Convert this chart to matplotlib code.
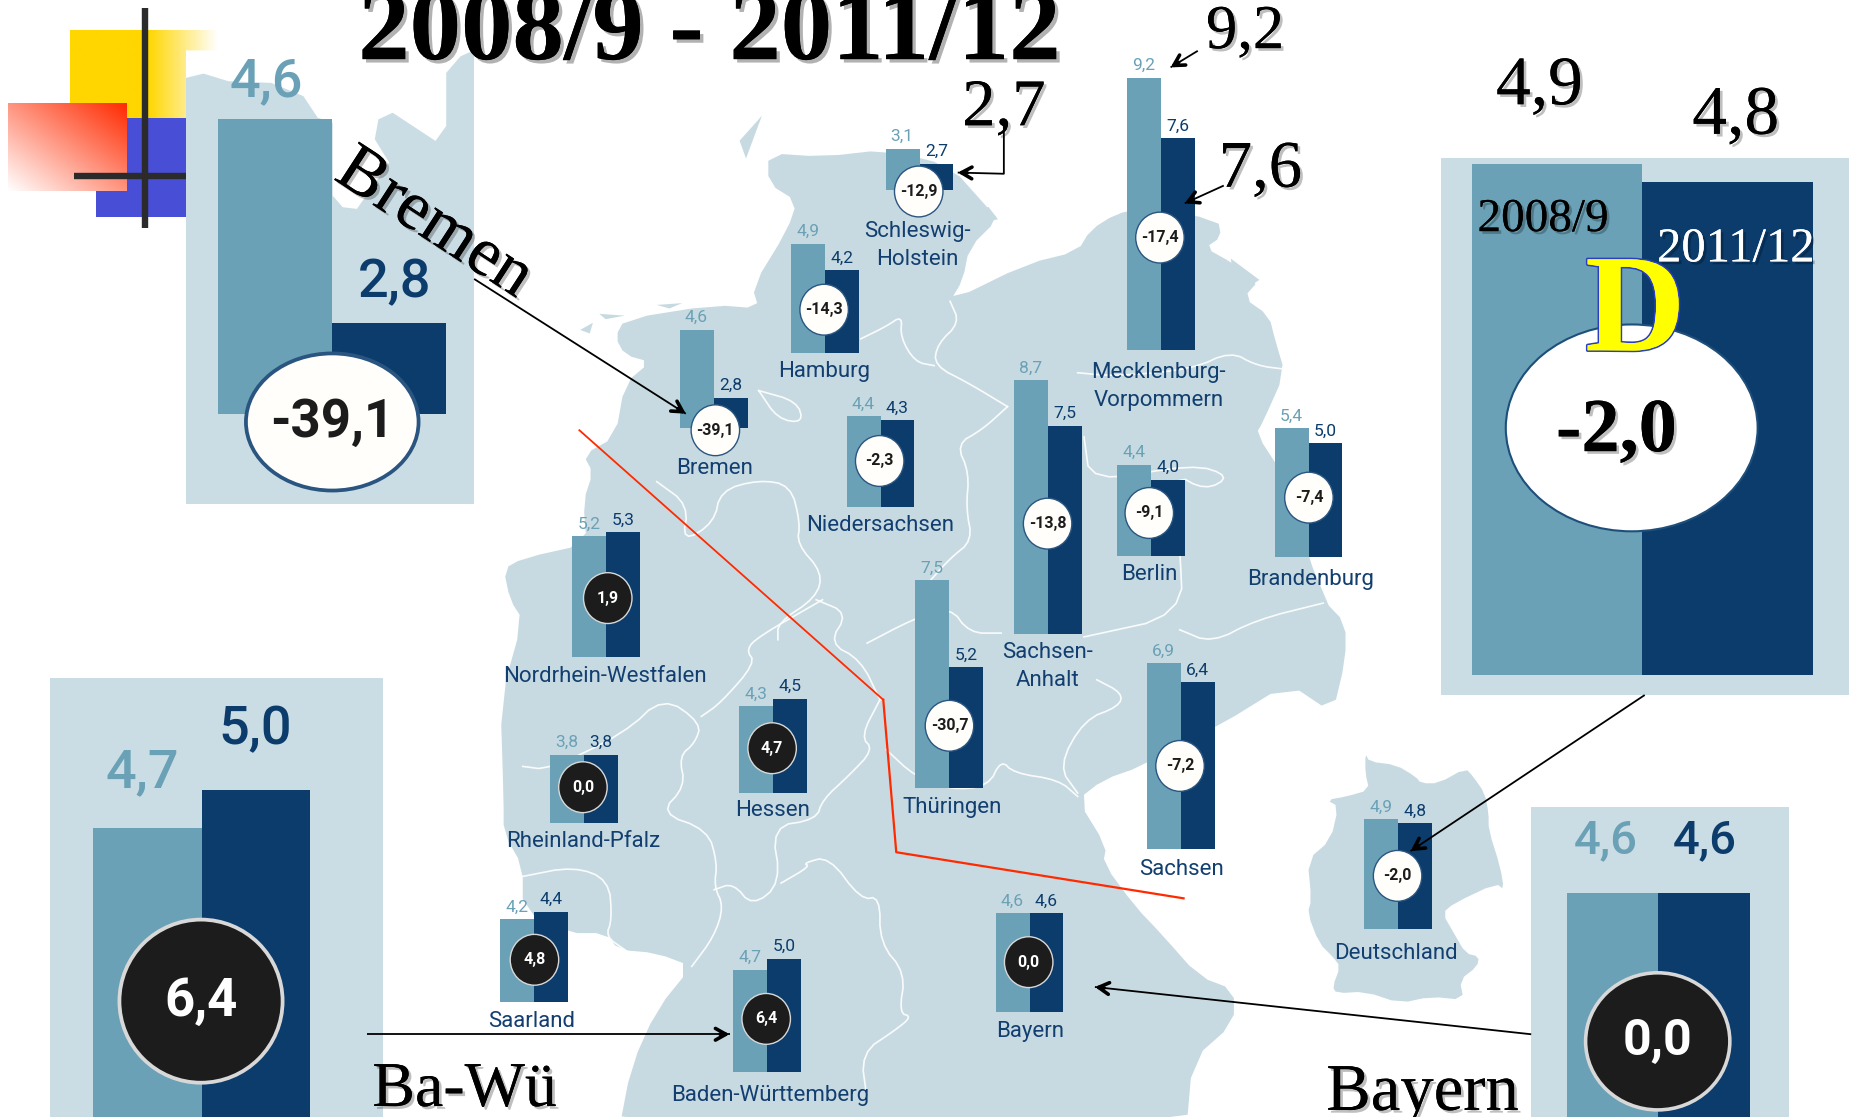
import numpy as np
import matplotlib
matplotlib.use("Agg")
import matplotlib.pyplot as plt
import matplotlib.patheffects as pe
from matplotlib.colors import to_rgb
from matplotlib.patches import Ellipse, Polygon, Rectangle

# ---------- data ----------
states = ["Schleswig-\nHolstein", "Hamburg", "Mecklenburg-\nVorpommern", "Bremen", "Niedersachsen",
          "Sachsen-\nAnhalt", "Berlin", "Brandenburg", "Nordrhein-Westfalen", "Rheinland-Pfalz",
          "Hessen", "Thüringen", "Sachsen", "Saarland", "Baden-Württemberg", "Bayern", "Deutschland"]
rate_2008 = [3.1, 4.9, 9.2, 4.6, 4.4, 8.7, 4.4, 5.4, 5.2, 3.8, 4.3, 7.5, 6.9, 4.2, 4.7, 4.6, 4.9]
rate_2011 = [2.7, 4.2, 7.6, 2.8, 4.3, 7.5, 4.0, 5.0, 5.3, 3.8, 4.5, 5.2, 6.4, 4.4, 5.0, 4.6, 4.8]
change = [-12.9, -14.3, -17.4, -39.1, -2.3, -13.8, -9.1, -7.4, 1.9, 0.0, 4.7, -30.7, -7.2, 4.8, 6.4, 0.0, -2.0]

# ---------- layout (in the 1568x945 frame) ----------
bar_left = [749, 669, 953, 575, 716, 858, 945, 1078, 484, 465, 625, 774, 970, 423, 620, 842, 1154]
bar_base = [161, 299, 296, 362, 429, 536, 470, 471, 556, 696, 671, 667, 718, 848, 907, 856, 786]
circle_x = [777, 697, 981, 605, 744, 886, 972, 1107, 514, 493, 653, 803, 998, 452, 648, 870, 1182]
circle_y = [162, 262, 201, 364, 390, 443, 434, 421, 506, 666, 633, 614, 648, 812, 862, 814, 741]
label_x = [776, 697, 980, 604, 744, 886, 972, 1108, 512, 493, 653, 805, 999, 450, 651, 871, 1181]
label_y = [208, 314, 327, 396, 445, 564, 486, 490, 572, 712, 686, 683, 736, 864, 927, 873, 807]

LIGHT, DARK = "#6AA1B6", "#0B3C6C"
MAP, BG = "#C8DAE1", "#CADDE4"
INK = "#1C1C1C"
SANS = ["Roboto", "DejaVu Sans"]
SERIF = ["Liberation Serif", "DejaVu Serif"]
AXIS_FLOOR = 2.0  # the bars start at 2 %

fig = plt.figure(figsize=(18.54, 11.17), dpi=100, facecolor="white")
ax = fig.add_axes([0, 0, 1, 1])


def fmt(v):
    return f"{v:.1f}".replace(".", ",")


def zoom1(pts):
    return [(372 + x * 0.5394, 67.7 + y * 0.302) for x, y in pts]


def zoom2(pts):
    return [(372 + x * 0.5394, 507.4 + y * 0.282) for x, y in pts]


def zoom3(pts):
    return [(x * 0.3019, y * 0.2805) for x, y in pts]


def zoom5(pts):
    return [(1057 + x * 0.3258, 626 + y * 0.282) for x, y in pts]


def smooth(pts, closed=False, n=2):
    p = np.array(pts, float)
    for _ in range(n):
        a = p if closed else p[:-1]
        b = np.roll(p, -1, axis=0) if closed else p[1:]
        q = np.empty((2 * len(a), 2))
        q[0::2] = 0.75 * a + 0.25 * b
        q[1::2] = 0.25 * a + 0.75 * b
        p = q if closed else np.vstack([p[:1], q, p[-1:]])
    return p


# ---------- decoration top left ----------
def gradient(extent, rgb, mix, z):
    """mix = 1 gives the colour, mix = 0 gives white or transparent as built by the caller."""
    ax.imshow(mix(np.array(to_rgb(rgb))), extent=extent, aspect="auto", zorder=z, interpolation="bilinear")


xx = np.linspace(0, 1, 200)
fade = np.clip((1 - xx) / 0.47, 0, 1)[None, :, None].repeat(4, axis=0)
gradient((59, 184, 100, 26), "#FFD600", lambda c: fade * c + (1 - fade), 1)
ax.add_patch(Rectangle((81, 100), 76, 84, fc="#484FD6", ec="none", zorder=1.2))
gx, gy = np.meshgrid(np.linspace(0, 1, 200), np.linspace(0, 1, 200))
diag = ((gx + (1 - gy)) / 2)[..., None]
gradient((7, 107, 162, 88), "#FF2A00", lambda c: diag * c + (1 - diag), 1.4)
ax.plot([123, 123], [7, 193], color="#2B2B2B", lw=4.6, zorder=1.6, solid_capstyle="butt")
ax.plot([63, 157], [149, 149], color="#2B2B2B", lw=4.6, zorder=1.6, solid_capstyle="butt")

# ---------- map of Germany ----------
outline = zoom1([(515, 205), (600, 215), (700, 195), (800, 240), (860, 360), (875, 390), (830, 470), (820, 560),
                 (800, 620), (920, 515), (1000, 480), (1020, 420), (1060, 375), (1100, 360), (1220, 390),
                 (1225, 440), (1200, 470), (1240, 510), (1285, 560), (1260, 610), (1300, 660), (1310, 730),
                 (1325, 820), (1290, 960), (1280, 990), (1320, 1100)]) + \
    zoom2([(1385, 0), (1420, 70), (1420, 180), (1400, 340), (1330, 250), (1220, 380), (1170, 420), (1100, 500),
           (1040, 540), (1000, 600), (1045, 740), (1040, 790), (1090, 920), (1130, 1000), (1190, 1130), (1245, 1170),
           (1245, 1270), (1180, 1380), (1170, 1600), (280, 1600), (300, 1400), (340, 1230), (395, 1100), (340, 1060),
           (280, 1050), (260, 1000), (200, 1000), (130, 930), (130, 800), (100, 700), (100, 600), (95, 300),
           (130, 60), (110, 0)]) + \
    zoom1([(100, 1370), (130, 1340), (230, 1300), (225, 1180), (240, 1100), (225, 1050), (275, 1000), (290, 850),
           (330, 790), (290, 770), (275, 720), (290, 670), (430, 630), (500, 640), (490, 580), (545, 420), (560, 340),
           (515, 290)])
ax.add_patch(Polygon(smooth(outline, closed=True, n=1), closed=True, fc=MAP, ec="none", zorder=2))
for isl in [[(470, 170), (505, 100), (480, 220)], [(250, 655), (290, 660), (260, 670)],
            [(220, 700), (240, 680), (235, 710)], [(340, 630), (380, 625), (360, 640)],
            [(840, 380), (860, 355), (875, 390), (850, 400)], [(1240, 500), (1285, 560), (1250, 600)]]:
    ax.add_patch(Polygon(zoom1(isl), closed=True, fc=MAP, ec="none", zorder=2))

borders1 = [[(660, 725), (700, 690), (725, 660), (722, 720), (745, 790), (775, 800)],
            [(800, 620), (815, 680), (780, 740), (775, 800), (830, 850), (890, 915)],
            [(1000, 820), (1060, 830), (1180, 810), (1240, 760), (1280, 800), (1325, 810)],
            [(500, 870), (560, 900), (570, 960), (530, 950), (500, 870)],
            [(890, 915), (850, 980), (810, 1020), (830, 1100), (825, 1200), (835, 1290), (800, 1340), (770, 1400)],
            [(340, 1125), (390, 1190), (380, 1295), (430, 1240), (440, 1150), (500, 1120), (550, 1135), (565, 1240),
             (560, 1300), (600, 1380), (590, 1450), (530, 1520), (530, 1568)],
            [(1010, 1000), (1020, 1130), (1180, 1075), (1240, 1110), (1200, 1150), (1150, 1100), (1160, 1300),
             (1165, 1500), (1010, 1560)]]
borders2 = [[(590, 0), (640, 40), (610, 130), (660, 180), (690, 300)],
            [(600, 0), (500, 110), (480, 150), (495, 190), (440, 310), (410, 350)],
            [(130, 500), (170, 510), (290, 400), (350, 290), (410, 370), (400, 430), (375, 470), (385, 560), (345, 640),
             (420, 690), (435, 790), (430, 860), (445, 920), (430, 1010), (395, 1100)],
            [(130, 830), (210, 800), (265, 840), (270, 960), (260, 1010), (290, 1050)],
            [(690, 300), (660, 410), (680, 450), (640, 530), (600, 600), (590, 660), (520, 680), (535, 850), (490, 920),
             (460, 850), (430, 870)],
            [(535, 850), (580, 800), (570, 790), (610, 770), (660, 900), (690, 890), (690, 1030), (730, 1120),
             (720, 1240), (740, 1250), (715, 1290), (660, 1360), (670, 1500)],
            [(670, 130), (740, 60), (800, 20), (830, 100), (880, 100)],
            [(700, 450), (745, 530), (800, 570), (860, 560), (880, 480), (900, 520), (970, 540), (1000, 590)],
            [(1030, 240), (1070, 280), (1065, 320), (1010, 360), (970, 500), (1000, 580)],
            [(1160, 90), (1210, 130), (1280, 60), (1385, 10)]]
for seg in [zoom1(b) for b in borders1] + [zoom2(b) for b in borders2]:
    s = smooth(seg)
    ax.plot(s[:, 0], s[:, 1], color="white", lw=1.2, alpha=0.9, zorder=2.1, solid_joinstyle="round")

# small map of Germany
ax.add_patch(Polygon(smooth(zoom5([(300, 40), (310, 65), (380, 75), (430, 110), (445, 130), (490, 130), (560, 85),
                                   (580, 110), (610, 160), (620, 220), (620, 270), (650, 380), (660, 450), (640, 430),
                                   (530, 490), (500, 520), (530, 580), (560, 640), (595, 650), (590, 680), (545, 720),
                                   (555, 780), (470, 770), (390, 790), (300, 755), (225, 760), (215, 740), (235, 680),
                                   (215, 650), (180, 610), (150, 520), (160, 480), (150, 360), (210, 300), (230, 200),
                                   (200, 180), (250, 170), (310, 150), (300, 100)]), closed=True, n=1),
                     closed=True, fc=MAP, ec="none", zorder=2))

# ---------- red line ----------
ax.plot([490, 747], [364, 592], color="#FF2A00", lw=1.3, zorder=2.5)
ax.plot([747, 758, 1001], [592, 721, 760], color="#FF2A00", lw=1.6, zorder=2.5)


# ---------- the bar groups ----------
def badge(cx, cy, rx, ry, value, fs, z):
    dark = value >= 0
    ax.add_patch(Ellipse((cx, cy), 2 * rx, 2 * ry, fc=INK if dark else "#FFFEFA",
                         ec="#D8D8D8" if dark else "#2A5580", lw=max(1.0, fs / 14), zorder=z))
    ax.text(cx, cy, fmt(value), ha="center", va="center", color="white" if dark else INK,
            fontsize=fs, family=SANS, weight="bold", zorder=z + 0.1)


def group(left, base, width, scale, v1, v2, z=3):
    ax.bar(left, -(v1 - AXIS_FLOOR) * scale, bottom=base, width=width, align="edge", color=LIGHT, zorder=z)
    ax.bar(left + width, -(v2 - AXIS_FLOOR) * scale, bottom=base, width=width, align="edge", color=DARK, zorder=z)


for i, name in enumerate(states):
    x, base = bar_left[i], bar_base[i]
    group(x, base, 28.7, 32, rate_2008[i], rate_2011[i])
    badge(circle_x[i], circle_y[i], 20.5, 21.5, change[i], 11.5, 4)
    ax.text(x + 14, base - (rate_2008[i] - AXIS_FLOOR) * 32 - 4, fmt(rate_2008[i]), ha="center", va="bottom",
            color=LIGHT, fontsize=12.5, family=SANS, zorder=5)
    ax.text(x + 43, base - (rate_2011[i] - AXIS_FLOOR) * 32 - 4, fmt(rate_2011[i]), ha="center", va="bottom",
            color=DARK, fontsize=12.5, family=SANS, zorder=5)
    ax.text(label_x[i], label_y[i], name, ha="center", va="center", color="#123F70", fontsize=16, family=SANS,
            linespacing=1.42, zorder=5)


# ---------- enlarged insets ----------
def inset(idx, bg, left, base, width, scale, circle, badge_fs, lab1, lab2, lab_fs):
    x0, y0, x1, y1 = bg
    ax.add_patch(Rectangle((x0, y0), x1 - x0, y1 - y0, fc=BG, ec="none", zorder=6))
    if idx == states.index("Bremen"):
        coast = zoom3([(521, 152), (521, 235), (570, 222), (640, 245), (760, 250), (850, 290), (890, 355), (932, 370),
                       (932, 590), (960, 625), (1000, 630), (1090, 490), (1050, 420), (1060, 360), (1100, 340),
                       (1220, 425), (1250, 380), (1250, 220), (1290, 170), (1327, 152)])
        ax.add_patch(Polygon(coast, closed=True, fc="white", ec="none", zorder=6.1))
    group(left, base, width, scale, rate_2008[idx], rate_2011[idx], z=6.2)
    badge(*circle, change[idx], badge_fs, 6.4)
    ax.text(*lab1, fmt(rate_2008[idx]), color=LIGHT, fontsize=lab_fs, family=SANS, weight="medium",
            ha="center", va="center", zorder=6.6)
    ax.text(*lab2, fmt(rate_2011[idx]), color=DARK, fontsize=lab_fs, family=SANS, weight="medium",
            ha="center", va="center", zorder=6.6)


inset(states.index("Bremen"), (157, 43, 401, 426), 184, 350, 96.5, 96, (281, 357, 73, 58), 38, (225, 69), (334, 239), 39)
inset(states.index("Baden-Württemberg"), (42, 574, 324, 960), 79, 989, 91.5, 107, (170, 847, 69, 69), 38,
      (120, 654), (216, 617), 39)
inset(states.index("Bayern"), (1295, 683, 1513, 960), 1325, 982, 77.5, 87, (1402, 881, 61, 58), 36,
      (1358, 711), (1442, 711), 34)

# Deutschland inset: numbers are set in the serif type here
d = states.index("Deutschland")
ax.add_patch(Rectangle((1219, 134), 345, 454, fc=BG, ec="none", zorder=6))
group(1245, 571, 144, 149, rate_2008[d], rate_2011[d], z=6.2)
ax.add_patch(Ellipse((1380, 362), 213, 175, fc="white", ec="#1E4E7A", lw=1.5, zorder=6.4))

shadow = [pe.withSimplePatchShadow(offset=(2, -2), shadow_rgbFace="k", alpha=0.25), pe.Normal()]


def serif(x, y, s, fs, color="black", weight="normal", rotation=0, z=8, effects=shadow):
    return ax.text(x, y, s, ha="center", va="center", fontsize=fs, color=color, weight=weight, family=SERIF,
                   rotation=rotation, rotation_mode="anchor", zorder=z, path_effects=effects)


serif(1367, 366, fmt(change[d]), 55, weight="bold")
serif(1383, 268, "D", 100, color="#FFFF00", weight="bold",
      effects=[pe.withStroke(linewidth=2.4, foreground="#2A3FC0"), pe.Normal()])
serif(1305, 186, "2008/9", 34)
serif(1468, 211, "2011/12", 35, color="white")
serif(1302, 74, fmt(rate_2008[d]), 50)
serif(1468, 99, fmt(rate_2011[d]), 50)

# ---------- title and annotations ----------
ax.text(600, 50, "2008/9 - 2011/12", ha="center", va="baseline", fontsize=74, weight="bold", family=SERIF, zorder=8,
        path_effects=[pe.withSimplePatchShadow(offset=(2.5, -2.5), shadow_rgbFace="k", alpha=0.3), pe.Normal()])
serif(367, 190, "Bremen", 50, rotation=-33)
serif(849, 92, fmt(rate_2011[0]), 48)
serif(1053, 28, fmt(rate_2008[2]), 45)
serif(1066, 144, fmt(rate_2011[2]), 48)
serif(393, 923, "Ba-Wü", 46)
serif(1203, 925, "Bayern", 48)


def arrow(path, head_lw=2.6):
    xs, ys = zip(*path)
    ax.plot(xs, ys, color="black", lw=1.3, zorder=7.5, solid_capstyle="butt")
    v = np.array(path[-1], float) - np.array(path[-2], float)
    start = np.array(path[-1], float) - v / np.hypot(*v) * 8
    ax.annotate("", xy=path[-1], xytext=tuple(start), zorder=7.6,
                arrowprops=dict(arrowstyle="->,head_length=0.75,head_width=0.42", color="black", lw=head_lw,
                                shrinkA=0, shrinkB=0))


arrow([(401, 236), (580, 350)])
arrow([(1013, 43), (990, 57)])
arrow([(1035, 157), (1002, 172)])
arrow([(849, 105), (849, 147), (810, 146)])
arrow([(310, 875), (617, 875)])
arrow([(1295, 875), (926, 835)])
arrow([(1391, 588), (1193, 720)])

ax.set_xlim(0, 1568)
ax.set_ylim(945, 0)
ax.axis("off")
fig.savefig("out.png", dpi=100)
